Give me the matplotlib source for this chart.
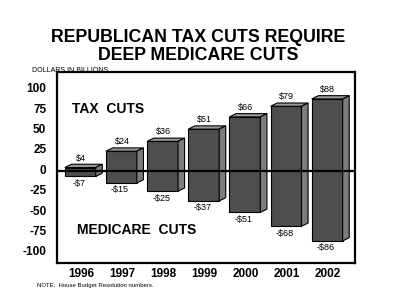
import matplotlib.pyplot as plt
from matplotlib.patches import Polygon

years = ['1996', '1997', '1998', '1999', '2000', '2001', '2002']
tax_cuts = [4, 24, 36, 51, 66, 79, 88]
medicare_cuts = [-7, -15, -25, -37, -51, -68, -86]
yticks = [100, 75, 50, 25, 0, -25, -50, -75, -100]

plt.rcParams['font.family'] = ['Liberation Sans', 'DejaVu Sans']

fig = plt.figure(figsize=(4, 3.04), dpi=100)
ax = fig.add_axes([57 / 400, 41 / 304, 298 / 400, 191 / 304])

# 3d-ish boxes: front face, top, right side
w_left, w_right = 0.39, 0.36
dx, dy = 0.16, 4
for i, (top, bot) in enumerate(zip(tax_cuts, medicare_cuts)):
    x0, x1 = i - w_left, i + w_right
    ax.add_patch(Polygon([(x0, bot), (x1, bot), (x1, top), (x0, top)],
                         closed=True, fc='#4e4e4e', ec='black', lw=0.8, zorder=2))
    ax.add_patch(Polygon([(x0, top), (x1, top), (x1 + dx, top + dy), (x0 + dx, top + dy)],
                         closed=True, fc='#9a9a9a', ec='black', lw=0.8, zorder=2))
    ax.add_patch(Polygon([(x1, bot), (x1 + dx, bot + dy), (x1 + dx, top + dy), (x1, top)],
                         closed=True, fc='#7c7c7c', ec='black', lw=0.8, zorder=2))
    ax.text(i, top + dy + 2, '$%d' % top, ha='center', va='bottom', fontsize=6.5, zorder=4)
    ax.text(i - 0.05, bot - 3, '-$%d' % abs(bot), ha='center', va='top', fontsize=6.5, zorder=4)

ax.axhline(0, color='black', lw=1.6, zorder=3)

ax.set_xlim(-0.58, 6.66)
ax.set_ylim(-113, 121)
ax.set_xticks([])
ax.set_yticks([])
for s in ax.spines.values():
    s.set_linewidth(1.6)

# y labels placed outside on the left
for v in yticks:
    ax.text(-0.84, v, str(v), ha='right', va='center', fontsize=8.5,
            fontweight='bold', clip_on=False)
for i, yr in enumerate(years):
    ax.text(i, -119, yr, ha='center', va='top', fontsize=8.5,
            fontweight='bold', clip_on=False)

ax.text(-0.22, 76, 'TAX  CUTS', ha='left', va='center', fontsize=10, fontweight='bold')
ax.text(-0.1, -72, 'MEDICARE  CUTS', ha='left', va='center', fontsize=10, fontweight='bold')

fig.text(198 / 400, 1 - 37 / 304, 'REPUBLICAN TAX CUTS REQUIRE', ha='center', va='center',
         fontsize=12.8, fontweight='bold')
fig.text(198 / 400, 1 - 56 / 304, 'DEEP MEDICARE CUTS', ha='center', va='center',
         fontsize=12.8, fontweight='bold')
fig.text(32 / 400, 1 - 70 / 304, 'DOLLARS IN BILLIONS', ha='left', va='center', fontsize=5)
fig.text(37 / 400, 1 - 285 / 304, 'NOTE:  House Budget Resolution numbers.', ha='left',
         va='center', fontsize=4.3)

fig.savefig('out.png', dpi=100)
